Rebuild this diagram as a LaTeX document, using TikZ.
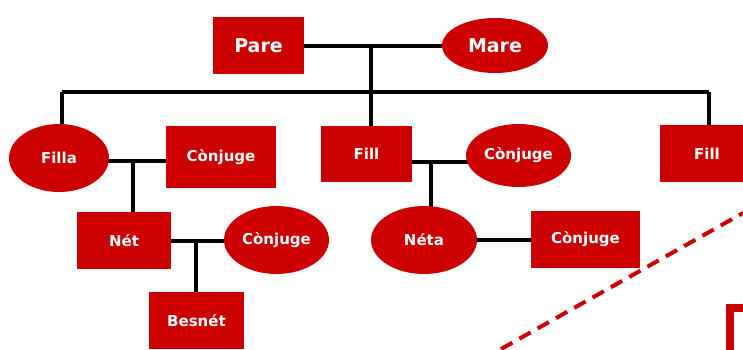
\documentclass[tikz,border=0pt]{standalone}
\usepackage{fontspec}
\setmainfont{DejaVu Sans}
\usepackage{tikz}
\usetikzlibrary{shapes.geometric,backgrounds}
\definecolor{myred}{RGB}{204, 0, 0}
\tikzset{every picture/.style={line width=4pt}}
\tikzset{
  manbox/.style={rectangle, fill=myred, text=white, font=\bfseries\fontsize{15}{17}\selectfont, inner sep=0pt, outer sep=0pt},
  womanoval/.style={ellipse, fill=myred, text=white, font=\bfseries\fontsize{15}{17}\selectfont, inner sep=0pt, outer sep=0pt},
  bigtext/.style={font=\bfseries\fontsize{19}{22}\selectfont},
  kinline/.style={draw=black, line width=4pt}
}

\begin{document}
\begin{tikzpicture}[x=1pt,y=1pt,yscale=-1]
\useasboundingbox (0,0) rectangle (743,349);

%Shape: Rectangle [pare]
\node [manbox, bigtext, minimum width=91pt, minimum height=57pt] (pare) at (258.5,45.5) {Pare};
%Shape: Ellipse [mare]
\node [womanoval, bigtext, minimum width=106pt, minimum height=55pt] (mare) at (495,45.5) {Mare};

%Shape: Ellipse [filla]
\node [womanoval, minimum width=100pt, minimum height=68pt] (filla) at (59,158) {Filla};
%Shape: Rectangle [conjuge of filla]
\node [manbox, minimum width=110pt, minimum height=62pt] (conjA) at (221,157) {Cònjuge};
%Shape: Rectangle [net]
\node [manbox, minimum width=94pt, minimum height=57pt] (net) at (124,240.5) {Nét};
%Shape: Ellipse [conjuge of net]
\node [womanoval, minimum width=105pt, minimum height=68pt] (conjB) at (276.5,240) {Cònjuge};
%Shape: Rectangle [besnet]
\node [manbox, minimum width=95pt, minimum height=57pt] (besnet) at (196.5,320.5) {Besnét};

%Shape: Rectangle [fill, middle]
\node [manbox, minimum width=91pt, minimum height=56pt] (fillC) at (366.5,154) {Fill};
%Shape: Ellipse [conjuge of fill]
\node [womanoval, minimum width=105pt, minimum height=63pt] (conjC) at (518.5,155.5) {Cònjuge};
%Shape: Ellipse [neta]
\node [womanoval, minimum width=106pt, minimum height=68pt] (neta) at (424,240) {Néta};
%Shape: Rectangle [conjuge of neta]
\node [manbox, minimum width=109pt, minimum height=57pt] (conjD) at (585.5,239.5) {Cònjuge};

%Shape: Rectangle [fill, right]
\node [manbox, minimum width=94pt, minimum height=57pt] (fillR) at (707,153.5) {Fill};

\coordinate (mTop) at (371,45);
\coordinate (bL) at (62,92);
\coordinate (bM) at (371,92);
\coordinate (bR) at (709,92);
\coordinate (mA) at (133,161);
\coordinate (mB) at (196,241);
\coordinate (mC) at (431,162);

\begin{scope}[on background layer]
%Straight Lines [marriage lines]
\draw [kinline] (pare.center) -- (mare.center);
\draw [kinline] (filla.center |- mA) -- (conjA.center |- mA);
\draw [kinline] (net.center |- mB) -- (conjB.center |- mB);
\draw [kinline] (fillC.center |- mC) -- (conjC.center |- mC);
\draw [kinline] (neta.center) -- (neta.center -| conjD.center);
%Straight Lines [descent lines]
\draw [kinline] (mTop) -- (bM);
\draw [kinline] (bL) -- (bR);
\draw [kinline] (bL) -- (bL |- filla);
\draw [kinline] (bM) -- (bM |- fillC);
\draw [kinline] (bR) -- (bR |- fillR);
\draw [kinline] (mA) -- (mA |- net);
\draw [kinline] (mB) -- (mB |- besnet);
\draw [kinline] (mC) -- (mC |- neta);
\end{scope}

%Straight Lines [dashed red]
\draw [myred, line width=4pt, dash pattern=on 13pt off 8pt] (501,349) -- (743,213);
%Shape: corner of frame
\draw [myred, line width=8pt, line join=miter] (750,308) -- (730,308) -- (730,355);

\end{tikzpicture}
\end{document}
